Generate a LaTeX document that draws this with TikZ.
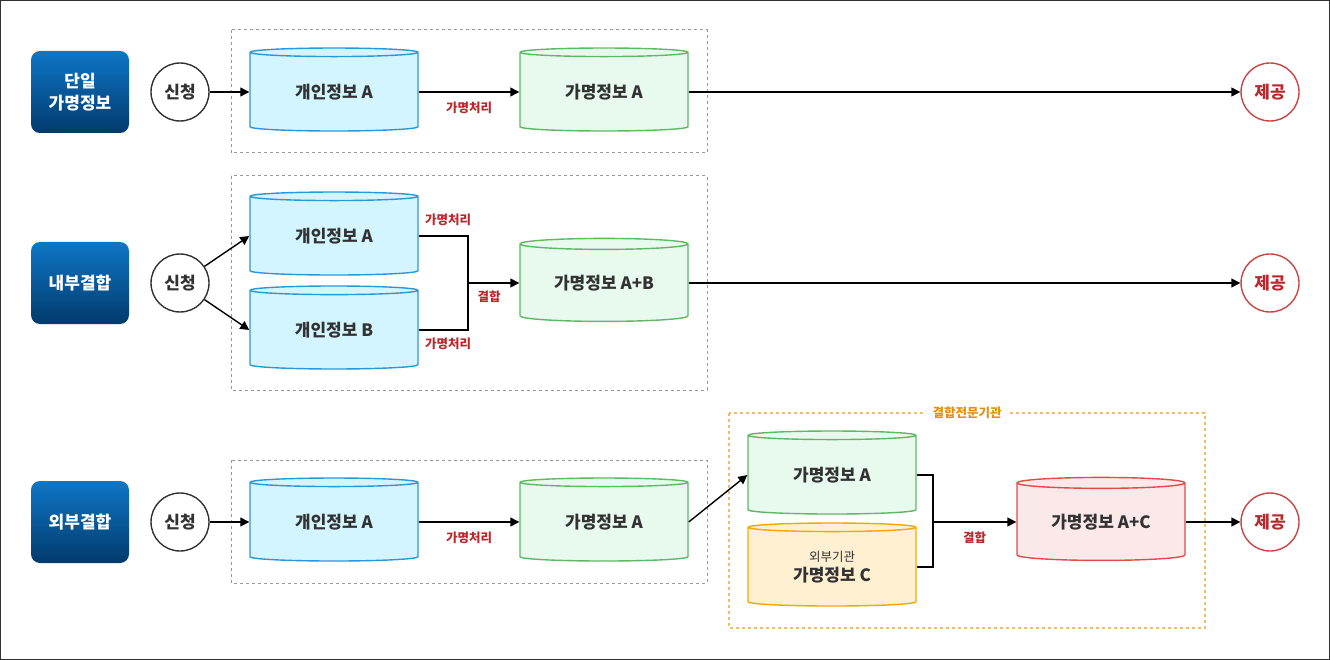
\documentclass[tikz,border=0pt]{standalone}
\usepackage{fontspec}
\setmainfont{Noto Sans CJK KR}
\usetikzlibrary{arrows.meta,shapes.geometric,positioning}
\definecolor{blueline}{RGB}{45,150,215}
\definecolor{bluefill}{RGB}{210,245,255}
\definecolor{greenline}{RGB}{95,185,100}
\definecolor{greenfill}{RGB}{232,249,238}
\definecolor{orangeline}{RGB}{255,165,0}
\definecolor{orangefill}{RGB}{255,240,210}
\definecolor{redline}{RGB}{225,75,75}
\definecolor{redfill}{RGB}{251,232,232}
\definecolor{redtext}{RGB}{185,40,45}
\definecolor{ambertext}{RGB}{225,145,20}
\definecolor{darkgray}{RGB}{50,50,50}
\definecolor{topblue}{RGB}{14,118,198}
\definecolor{bottomblue}{RGB}{2,58,108}

\begin{document}
\begin{tikzpicture}[
  x=1pt, y=-1pt,
  db/.style={
    cylinder, shape border rotate=90, aspect=0.11,
    minimum width=168pt, minimum height=83pt,
    line width=1.4pt, font=\bfseries\fontsize{17}{20}\selectfont,
    text=darkgray, align=center, inner sep=0pt
  },
  rawdb/.style={db, draw=blueline, fill=bluefill},
  pseudodb/.style={db, draw=greenline, fill=greenfill},
  extdb/.style={db, draw=orangeline, fill=orangefill},
  joindb/.style={db, draw=redline, fill=redfill},
  kind/.style={
    rounded corners=9pt, minimum width=98pt, minimum height=82pt,
    top color=topblue, bottom color=bottomblue, text=white, align=center,
    font=\bfseries\fontsize{17}{22}\selectfont
  },
  ask/.style={circle, draw=darkgray, line width=1.4pt, minimum size=58pt,
    inner sep=0pt, font=\bfseries\fontsize{17}{20}\selectfont, text=darkgray},
  give/.style={circle, draw=redline!90!black, line width=1.4pt, minimum size=58pt,
    inner sep=0pt, font=\bfseries\fontsize{17}{20}\selectfont, text=redtext},
  zone/.style={draw=gray!80, dashed, line width=1pt},
  agency/.style={draw=ambertext!60, dashed, line width=1.2pt},
  line/.style={-{Triangle[length=9pt,width=9pt]}, line width=1.4pt, draw=black},
  plain/.style={line width=1.4pt, draw=black},
  annot/.style={font=\bfseries\fontsize{12.5}{14}\selectfont, text=redtext}
]
\draw[darkgray, line width=1pt] (0.5,0.5) rectangle (1329.5,659.5);

% ===== Row 1 =====
\draw[zone] (231,30) rectangle (707,153);
\node[kind] (k1) at (80,92) {단일\\가명정보};
\node[ask] (a1) at (180,92) {신청};
\node[rawdb] (r1) at (334,92) {개인정보 A};
\node[pseudodb] (p1) at (604,92) {가명정보 A};
\node[give] (g1) at (1270,92) {제공};
\draw[line] (a1) -- (r1.west |- a1);
\draw[line] (r1.east |- a1) -- (p1.west |- a1) node[midway, below=6pt, annot] {가명처리};
\draw[line] (p1.east |- a1) -- (g1);

% ===== Row 2 =====
\draw[zone] (231,176) rectangle (707,390);
\node[kind] (k2) at (80,283) {내부결합};
\node[ask] (a2) at (180,283) {신청};
\node[rawdb] (r2a) at (334,236) {개인정보 A};
\node[rawdb] (r2b) at (334,330) {개인정보 B};
\node[pseudodb] (p2) at (604,283) {가명정보 A+B};
\node[give] (g2) at (1270,283) {제공};
\coordinate (j2) at (468,283);
\draw[line] (a2) -- (r2a.west);
\draw[line] (a2) -- (r2b.west);
\draw[plain] (r2a.east) -| (j2) |- (r2b.east);
\draw[line] (j2) -- (p2.west |- j2);
\node[annot] (t2a) at (448,220) {가명처리};
\node[annot] (t2b) at (448,344) {가명처리};
\node[annot] (t2c) at (489,297) {결합};
\draw[line] (p2.east |- j2) -- (g2);

% ===== Row 3 =====
\draw[zone] (231,460) rectangle (707,583);
\draw[agency] (729,413) rectangle (1205,628);
\node[fill=white, inner xsep=8pt, font=\bfseries\fontsize{12.5}{14}\selectfont,
  text=ambertext] (t3) at (967,413) {결합전문기관};
\node[kind] (k3) at (80,522) {외부결합};
\node[ask] (a3) at (180,522) {신청};
\node[rawdb] (r3) at (334,522) {개인정보 A};
\node[pseudodb] (p3) at (604,522) {가명정보 A};
\node[pseudodb] (p3b) at (832,475) {가명정보 A};
\node[extdb] (e3) at (832,567) {{\fontsize{12.5}{14}\selectfont\mdseries 외부기관}\\가명정보 C};
\node[joindb] (j3db) at (1101,522) {가명정보 A+C};
\node[give] (g3) at (1270,522) {제공};
\coordinate (j3) at (933,522);
\draw[line] (a3) -- (r3.west |- a3);
\draw[line] (r3.east |- a3) -- (p3.west |- a3) node[midway, below=6pt, annot] {가명처리};
\draw[line] (p3.east |- a3) -- (p3b.west);
\draw[plain] (p3b.east) -| (j3) |- (e3.east);
\draw[line] (j3) -- (j3db.west |- j3) node[midway, below=6pt, annot] {결합};
\draw[line] (j3db.east |- j3) -- (g3);
\end{tikzpicture}
\end{document}
